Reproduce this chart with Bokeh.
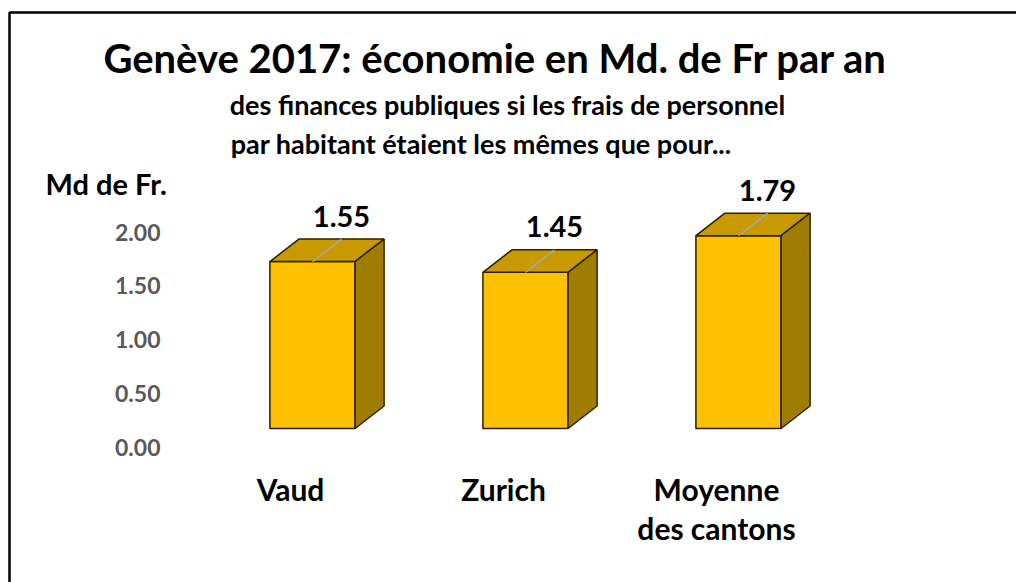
from bokeh.plotting import figure
from bokeh.models import Range1d, ColumnDataSource
from bokeh.core.properties import value
from bokeh.embed import file_html
from bokeh.resources import INLINE

# ---- data ----
categories = ["Vaud", "Zurich", "Moyenne\ndes cantons"]
savings = [1.55, 1.45, 1.79]
value_labels = ["1.55", "1.45", "1.79"]
y_ticks = [0.0, 0.5, 1.0, 1.5, 2.0]
tick_labels = ["0.00", "0.50", "1.00", "1.50", "2.00"]
title = "Genève 2017: économie en Md. de Fr par an"
subtitle = ["des finances publiques si les frais de personnel",
            "par habitant étaient les mêmes  que pour..."]
y_title = "Md de Fr."

# ---- layout ----
W, H = 1016, 582
CAT_PX = 213.0
X0_PX = 312.0
Y0_PX = 428.0
PX_UNIT = 107.7
FONT = value("Lato")

x_range = Range1d(-X0_PX / CAT_PX, (W - X0_PX) / CAT_PX)
y_range = Range1d(-(H - Y0_PX) / PX_UNIT, Y0_PX / PX_UNIT)

def tx(px):
    return x_range.start + px / CAT_PX

def ty(py):
    return y_range.end - py / PX_UNIT

p = figure(width=W, height=H, x_range=x_range, y_range=y_range,
           x_axis_type=None, y_axis_type=None, toolbar_location=None,
           output_backend="svg", min_border=0)
p.outline_line_color = None
p.background_fill_color = "white"
p.border_fill_color = "white"

# chart border (its right and bottom edges lie outside the picture)
p.quad(left=[tx(9)], right=[x_range.end + 1], top=[ty(12)], bottom=[y_range.start - 1],
       fill_color=None, line_color="black", line_width=2.5)

# ---- 3D bars ----
w = 0.40
dx = 29 / CAT_PX
dy = 22.5 / PX_UNIT
edge = "#2B2200"
xs = list(range(len(categories)))

front = ColumnDataSource(dict(left=[i - w / 2 for i in xs], right=[i + w / 2 for i in xs],
                              bottom=[0] * len(xs), top=savings))
p.quad(source=front, left="left", right="right", bottom="bottom", top="top",
       fill_color="#FFC000", line_color=edge, line_width=1.5)

top_xs, top_ys, side_xs, side_ys = [], [], [], []
for i, v in zip(xs, savings):
    l, r = i - w / 2, i + w / 2
    top_xs.append([l, r, r + dx, l + dx])
    top_ys.append([v, v, v + dy, v + dy])
    side_xs.append([r, r + dx, r + dx, r])
    side_ys.append([0, dy, v + dy, v])
p.patches(top_xs, top_ys, fill_color="#C99A00", line_color=edge, line_width=1.5)
p.patches(side_xs, side_ys, fill_color="#A07C00", line_color=edge, line_width=1.5)

# leader lines and value labels
p.segment(x0=xs, y0=savings, x1=[i + dx for i in xs], y1=[v + dy for v in savings],
          line_color="#A6A6A6", line_width=1.5)
p.text(x=[i + dx for i in xs], y=[v + dy for v in savings], text=value_labels,
       text_font=FONT, text_font_style="bold", text_font_size="29px",
       text_color="black", text_align="center", text_baseline="middle", y_offset=-23)

# y tick labels
p.text(x=[tx(160)] * len(y_ticks), y=y_ticks, text=tick_labels,
       text_font=FONT, text_font_style="bold", text_font_size="23px",
       text_color="#595959", text_align="right", text_baseline="middle", y_offset=19)

# category labels
cat_dx = -22 / CAT_PX
first = [c.split("\n")[0] for c in categories]
p.text(x=[i + cat_dx for i in xs], y=[0] * len(xs), text=first,
       text_font=FONT, text_font_style="bold", text_font_size="30px",
       text_color="black", text_align="center", text_baseline="middle", y_offset=60)
sec_x = [i + cat_dx for i, c in zip(xs, categories) if "\n" in c]
sec_t = [c.split("\n")[1] for c in categories if "\n" in c]
p.text(x=sec_x, y=[0] * len(sec_x), text=sec_t,
       text_font=FONT, text_font_style="bold", text_font_size="30px",
       text_color="black", text_align="center", text_baseline="middle", y_offset=99)

# titles
p.text(x=[tx(495)], y=[ty(57)], text=[title], text_font=FONT, text_font_style="bold",
       text_font_size="40px", text_color="black", text_align="center", text_baseline="middle")
p.text(x=[tx(507), tx(484)], y=[ty(104), ty(143)], text=subtitle, text_font=FONT,
       text_font_style="bold", text_font_size="27px", text_color="black",
       text_align="center", text_baseline="middle")
p.text(x=[tx(45)], y=[ty(183)], text=[y_title], text_font=FONT, text_font_style="bold",
       text_font_size="29px", text_color="black", text_align="left", text_baseline="middle")

open("out.html", "w").write(file_html(p, INLINE))
